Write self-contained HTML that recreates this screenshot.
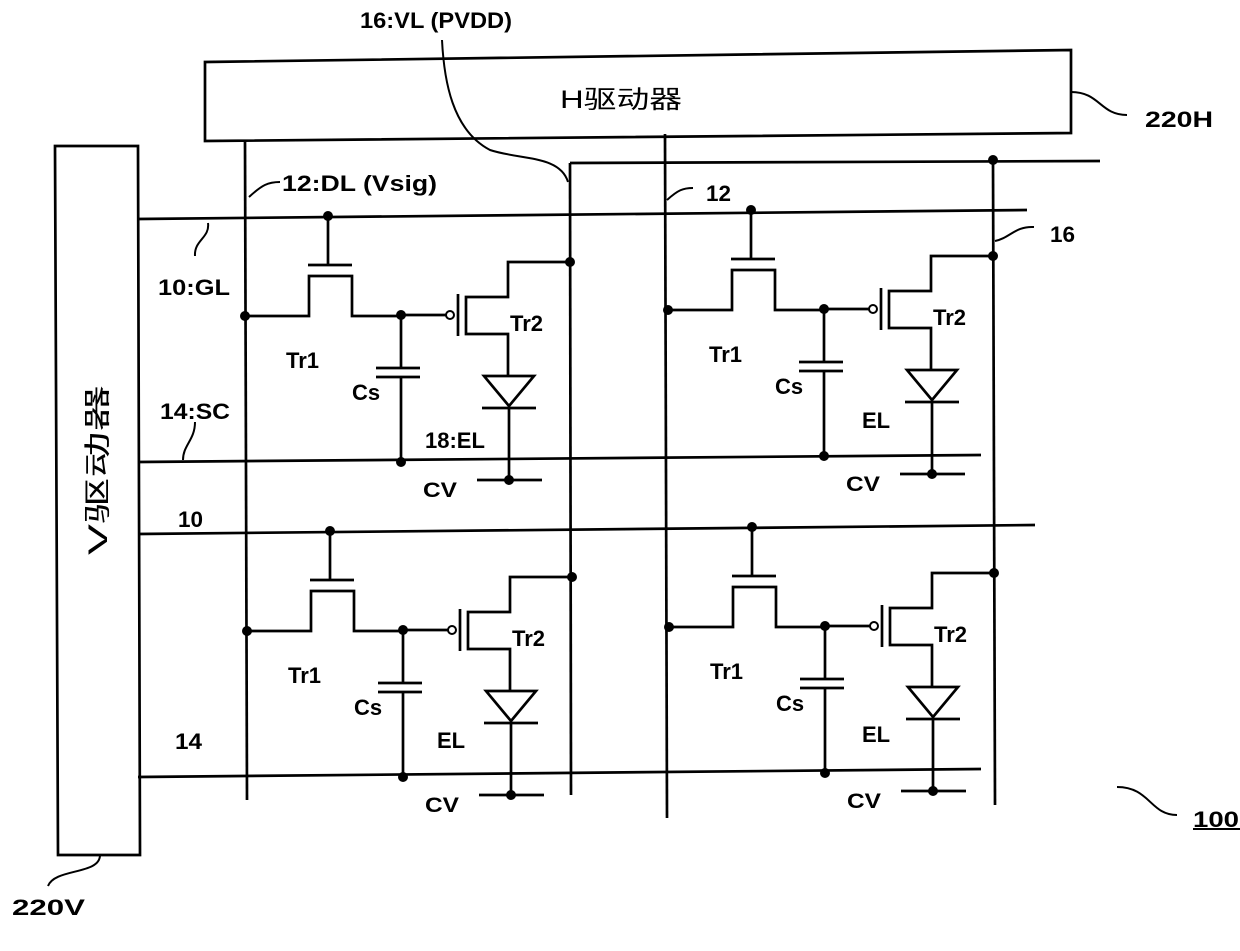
<!DOCTYPE html>
<html><head><meta charset="utf-8"><style>
html,body{margin:0;padding:0;background:#fff;}
svg{display:block;}
text{font-family:"Liberation Sans","Noto Sans CJK SC",sans-serif;fill:#000;font-weight:bold;}
text.cjk{font-weight:normal;}
</style></head><body>
<svg width="1240" height="951" viewBox="0 0 1240 951" xmlns="http://www.w3.org/2000/svg">
<defs>
<g id="cell" stroke="#000" fill="none" stroke-width="2.7">
  <line x1="328" y1="216" x2="328" y2="265"/>
  <line x1="308" y1="265" x2="352" y2="265"/>
  <path d="M245,316 H309 V276 H352 V316 H401"/>
  <line x1="401" y1="315" x2="401" y2="368"/>
  <line x1="376" y1="368" x2="420" y2="368"/>
  <line x1="376" y1="377" x2="420" y2="377"/>
  <line x1="401" y1="377" x2="401" y2="462"/>
  <line x1="401" y1="315" x2="446" y2="315"/>
  <circle cx="450" cy="315" r="4" fill="#fff" stroke-width="2"/>
  <line x1="458" y1="294" x2="458" y2="336"/>
  <path d="M570,262 H508 V297 H466 V334 H508 V376"/>
  <polygon points="484,376 534,376 509,406"/>
  <line x1="482" y1="408" x2="536" y2="408"/>
  <line x1="509" y1="408" x2="509" y2="480"/>
  <line x1="477" y1="480" x2="542" y2="480"/>
  <g fill="#000" stroke="none">
    <circle cx="328" cy="216" r="5"/>
    <circle cx="245" cy="316" r="5"/>
    <circle cx="401" cy="315" r="5"/>
    <circle cx="401" cy="462" r="5"/>
    <circle cx="570" cy="262" r="5"/>
    <circle cx="509" cy="480" r="5"/>
  </g>
</g>
<g id="labels">
  <text x="286" y="368" font-size="22">Tr1</text>
  <text x="352" y="400" font-size="22">Cs</text>
  <text x="510" y="331" font-size="22">Tr2</text>
  <text x="423" y="497" font-size="21" textLength="34" lengthAdjust="spacingAndGlyphs">CV</text>
</g>
</defs>

<g stroke="#000" fill="none" stroke-width="2.7">
  <polygon points="205,62 1071,50 1071,133 205,141"/>
  <polygon points="55,146 138,146 140,855 58,855"/>
  <line x1="245" y1="141" x2="247" y2="800"/>
  <line x1="665" y1="134" x2="667" y2="818"/>
  <line x1="570" y1="163" x2="571" y2="795"/>
  <line x1="993" y1="160" x2="995" y2="805"/>
  <line x1="570" y1="163" x2="1100" y2="161"/>
  <line x1="138" y1="219" x2="1027" y2="210"/>
  <line x1="138" y1="462" x2="981" y2="455"/>
  <line x1="138" y1="534" x2="1035" y2="525"/>
  <line x1="138" y1="777" x2="981" y2="769"/>
  <path d="M442,40 C444,80 452,130 490,150 C520,160 560,155 568,182" stroke-width="2"/>
  <path d="M249,197 C262,185 268,182 280,182" stroke-width="2"/>
  <path d="M208,223 C210,238 194,240 195,256" stroke-width="2"/>
  <path d="M667,200 C678,190 683,188 693,188" stroke-width="2"/>
  <path d="M995,241 C1010,238 1015,226 1034,227" stroke-width="2"/>
  <path d="M1071,92 C1100,92 1100,115 1127,115" stroke-width="2"/>
  <path d="M183,460 C183,445 195,440 195,422" stroke-width="2"/>
  <path d="M100,855 C100,875 55,868 48,886" stroke-width="2"/>
  <path d="M1117,787 C1150,787 1150,815 1177,815" stroke-width="2"/>
  <line x1="1193" y1="829" x2="1240" y2="829" stroke-width="2"/>
</g>
<g fill="#000">
  <circle cx="993" cy="160" r="5"/>
</g>

<use href="#cell"/>
<use href="#cell" transform="translate(423,-6)"/>
<use href="#cell" transform="translate(2,315)"/>
<use href="#cell" transform="translate(424,311)"/>
<use href="#labels"/>
<use href="#labels" transform="translate(423,-6)"/>
<use href="#labels" transform="translate(2,315)"/>
<use href="#labels" transform="translate(424,311)"/>

<text x="425" y="448" font-size="22">18:EL</text>
<text x="862" y="428" font-size="22">EL</text>
<text x="437" y="748" font-size="22">EL</text>
<text x="862" y="742" font-size="22">EL</text>

<text class="cjk" x="560" y="108" font-size="25" textLength="122" lengthAdjust="spacingAndGlyphs">H驱动器</text>
<text class="cjk" transform="translate(107,555) rotate(-90)" font-size="27" textLength="170" lengthAdjust="spacingAndGlyphs">V驱动器</text>

<text x="360" y="28" font-size="22" textLength="152" lengthAdjust="spacingAndGlyphs">16:VL (PVDD)</text>
<text x="282" y="191" font-size="22" textLength="155" lengthAdjust="spacingAndGlyphs">12:DL (Vsig)</text>
<text x="158" y="295" font-size="22" textLength="72" lengthAdjust="spacingAndGlyphs">10:GL</text>
<text x="706" y="201" font-size="22" textLength="25" lengthAdjust="spacingAndGlyphs">12</text>
<text x="1050" y="242" font-size="22" textLength="25" lengthAdjust="spacingAndGlyphs">16</text>
<text x="1145" y="127" font-size="22" textLength="68" lengthAdjust="spacingAndGlyphs">220H</text>
<text x="160" y="419" font-size="22" textLength="70" lengthAdjust="spacingAndGlyphs">14:SC</text>
<text x="178" y="527" font-size="22" textLength="25" lengthAdjust="spacingAndGlyphs">10</text>
<text x="175" y="749" font-size="22" textLength="27" lengthAdjust="spacingAndGlyphs">14</text>
<text x="12" y="915" font-size="22" textLength="73" lengthAdjust="spacingAndGlyphs">220V</text>
<text x="1193" y="827" font-size="22" textLength="46" lengthAdjust="spacingAndGlyphs">100</text>
</svg>
</body></html>
